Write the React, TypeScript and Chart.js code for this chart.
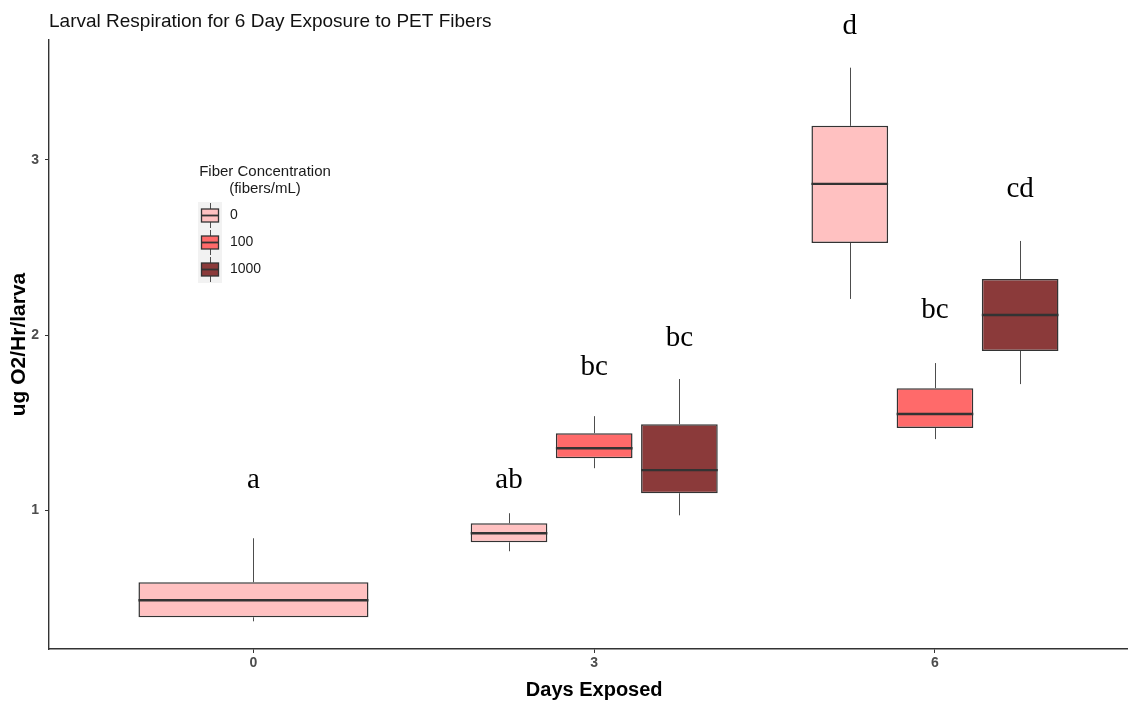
import { useEffect, useRef } from 'react';
import { Chart, registerables } from 'chart.js';

Chart.register(...registerables);

// Days on the x axis (placed at positions 1, 2, 3 of a linear axis)
const DAYS = ['0', '3', '6'];
const DAY_POS = [1, 2, 3];
const Y_TICKS = [1, 2, 3];

// Fiber concentrations (fibers/mL) and their fills
const CONCENTRATIONS = ['0', '100', '1000'];
const COLORS = ['#FFC1C1', '#FF6A6A', '#8B3A3A'];

// Five-number summaries per day: [lower whisker, Q1, median, Q3, upper whisker]
const BOX_0: (number[] | null)[] = [
  [0.366, 0.389, 0.486, 0.589, 0.84],
  [0.766, 0.817, 0.869, 0.926, 0.983],
  [2.206, 2.526, 2.863, 3.194, 3.526],
];
const BOX_100: (number[] | null)[] = [
  null,
  [1.24, 1.297, 1.354, 1.44, 1.537],
  [1.406, 1.469, 1.549, 1.697, 1.84],
];
const BOX_1000: (number[] | null)[] = [
  null,
  [0.971, 1.097, 1.229, 1.491, 1.749],
  [1.72, 1.909, 2.114, 2.32, 2.537],
];

// Significance letters and the height (baseline) at which they sit
const LETTERS_0 = ['a', 'ab', 'd'];
const LETTERS_100 = [null, 'bc', 'bc'];
const LETTERS_1000 = [null, 'bc', 'cd'];
const LETTER_Y_0 = [1.126, 1.126, 3.72];
const LETTER_Y_100 = [null, 1.771, 2.097];
const LETTER_Y_1000 = [null, 1.937, 2.789];

const SERIES = [BOX_0, BOX_100, BOX_1000];
const LETTERS = [LETTERS_0, LETTERS_100, LETTERS_1000];
const LETTER_Y = [LETTER_Y_0, LETTER_Y_100, LETTER_Y_1000];

const TITLE = 'Larval Respiration for 6 Day Exposure to PET Fibers';
const X_TITLE = 'Days Exposed';
const Y_TITLE = 'ug O2/Hr/larva';
const LEGEND_TITLE = ['Fiber Concentration', '(fibers/mL)'];

const SANS = '"Liberation Sans", Arial, sans-serif';
const SERIF = '"Liberation Serif", "Times New Roman", serif';

const boxPlugin = {
  id: 'boxWhiskers',
  beforeDatasetsDraw(chart: any) {
    const { ctx, scales } = chart;
    const y = scales.y;
    ctx.save();
    ctx.strokeStyle = '#4D4D4D';
    ctx.lineWidth = 1;
    SERIES.forEach((boxes, si) => {
      const meta = chart.getDatasetMeta(si);
      boxes.forEach((b, i) => {
        if (!b) return;
        const x = Math.round(meta.data[i].x) + 0.5;
        ctx.beginPath();
        ctx.moveTo(x, y.getPixelForValue(b[0]));
        ctx.lineTo(x, y.getPixelForValue(b[1]));
        ctx.moveTo(x, y.getPixelForValue(b[3]));
        ctx.lineTo(x, y.getPixelForValue(b[4]));
        ctx.stroke();
      });
    });
    ctx.restore();
  },
  afterDatasetsDraw(chart: any) {
    const { ctx, scales } = chart;
    const y = scales.y;
    ctx.save();
    // medians
    ctx.strokeStyle = '#333333';
    ctx.lineWidth = 2.4;
    SERIES.forEach((boxes, si) => {
      const meta = chart.getDatasetMeta(si);
      boxes.forEach((b, i) => {
        if (!b) return;
        const bar = meta.data[i];
        const py = y.getPixelForValue(b[2]);
        ctx.beginPath();
        ctx.moveTo(bar.x - bar.width / 2, py);
        ctx.lineTo(bar.x + bar.width / 2, py);
        ctx.stroke();
      });
    });
    // significance letters
    ctx.fillStyle = '#000000';
    ctx.font = `29px ${SERIF}`;
    ctx.textAlign = 'center';
    ctx.textBaseline = 'alphabetic';
    LETTERS.forEach((letters, si) => {
      const meta = chart.getDatasetMeta(si);
      letters.forEach((t, i) => {
        const v = LETTER_Y[si][i];
        if (!t || v == null) return;
        ctx.fillText(t, meta.data[i].x, y.getPixelForValue(v));
      });
    });
    ctx.restore();
  },
  afterDraw(chart: any) {
    const { ctx, chartArea, scales } = chart;
    ctx.save();
    // plot title
    ctx.fillStyle = '#111111';
    ctx.font = `19px ${SANS}`;
    ctx.textAlign = 'left';
    ctx.textBaseline = 'alphabetic';
    ctx.fillText(TITLE, chartArea.left, 27);

    // axis titles
    ctx.fillStyle = '#000000';
    ctx.font = `bold 20px ${SANS}`;
    ctx.textAlign = 'center';
    ctx.textBaseline = 'middle';
    ctx.fillText(X_TITLE, scales.x.getPixelForValue(2), 690);
    ctx.font = `bold 21px ${SANS}`;
    ctx.save();
    ctx.translate(19, (chartArea.top + chartArea.bottom) / 2);
    ctx.rotate(-Math.PI / 2);
    ctx.fillText(Y_TITLE, 0, 0);
    ctx.restore();

    // legend
    const cx = 265;
    ctx.fillStyle = '#1A1A1A';
    ctx.font = `15px ${SANS}`;
    ctx.fillText(LEGEND_TITLE[0], cx, 172);
    ctx.fillText(LEGEND_TITLE[1], cx, 189);
    const keyX = 198;
    const keyW = 24;
    const keyTop = 202;
    const keyH = 27;
    ctx.fillStyle = '#F2F2F2';
    ctx.fillRect(keyX, keyTop, keyW, keyH * CONCENTRATIONS.length);
    CONCENTRATIONS.forEach((label, i) => {
      const top = keyTop + i * keyH;
      const mid = top + keyH / 2;
      const lx = keyX + keyW / 2 + 0.5;
      ctx.strokeStyle = '#4D4D4D';
      ctx.lineWidth = 1;
      ctx.beginPath();
      ctx.moveTo(lx, top + 1);
      ctx.lineTo(lx, top + keyH - 1);
      ctx.stroke();
      ctx.fillStyle = COLORS[i];
      ctx.fillRect(keyX + 3.5, mid - 6.5, keyW - 7, 13);
      ctx.strokeStyle = '#333333';
      ctx.lineWidth = 1.3;
      ctx.strokeRect(keyX + 3.5, mid - 6.5, keyW - 7, 13);
      ctx.lineWidth = 1.8;
      ctx.beginPath();
      ctx.moveTo(keyX + 3.5, mid);
      ctx.lineTo(keyX + keyW - 3.5, mid);
      ctx.stroke();
      ctx.fillStyle = '#1A1A1A';
      ctx.font = `14px ${SANS}`;
      ctx.textAlign = 'left';
      ctx.fillText(label, 230, mid);
      ctx.textAlign = 'center';
    });
    ctx.restore();
  },
};

export default function App() {
  const ref = useRef<HTMLCanvasElement>(null);

  useEffect(() => {
    const canvas = ref.current;
    if (!canvas) return;
    const datasets = SERIES.map((boxes, si) => ({
      label: CONCENTRATIONS[si],
      stack: 's' + si,
      data: boxes.map((b, i) => ({ x: DAY_POS[i], y: b ? [b[1], b[3]] : null })),
      backgroundColor: COLORS[si],
      borderColor: '#333333',
      borderWidth: 1.5,
      borderSkipped: false as const,
      categoryPercentage: 0.75,
      barPercentage: 0.9,
      skipNull: true,
    }));

    const tickFont = { family: SANS, size: 14, weight: 'bold' as const };

    const chart = new Chart(canvas, {
      type: 'bar',
      data: { datasets } as any,
      options: {
        animation: false,
        responsive: false,
        devicePixelRatio: 1,
        layout: { padding: { top: 40, right: 0, bottom: 0, left: 0 } },
        plugins: {
          legend: { display: false },
          tooltip: { enabled: false },
          title: { display: false },
        },
        scales: {
          x: {
            type: 'linear',
            min: 0.4,
            max: 3.5665,
            offset: false,
            afterBuildTicks: (s: any) => {
              s.ticks = DAY_POS.map((v) => ({ value: v }));
            },
            afterFit: (s: any) => {
              s.height = 55;
            },
            grid: {
              offset: false,
              drawOnChartArea: false,
              drawTicks: true,
              tickLength: 4,
              color: '#333333',
            },
            border: { color: '#333333', width: 1.4 },
            ticks: {
              autoSkip: false,
              maxRotation: 0,
              padding: 2,
              color: '#4D4D4D',
              font: tickFont,
              callback: (v: any) => {
                const k = DAY_POS.indexOf(Number(v));
                return k >= 0 ? DAYS[k] : '';
              },
            },
          },
          y: {
            type: 'linear',
            min: 0.208,
            max: 3.684,
            afterBuildTicks: (s: any) => {
              s.ticks = Y_TICKS.map((v) => ({ value: v }));
            },
            afterFit: (s: any) => {
              s.width = 49;
            },
            grid: {
              drawOnChartArea: false,
              drawTicks: true,
              tickLength: 4,
              color: '#333333',
            },
            border: { color: '#333333', width: 1.4 },
            ticks: {
              padding: 6,
              color: '#4D4D4D',
              font: tickFont,
              callback: (v: any) => String(v),
            },
          },
        },
      } as any,
      plugins: [boxPlugin],
    });
    return () => chart.destroy();
  }, []);

  return (
    <div style={{ position: 'fixed', left: 0, top: 0, width: 1128, height: 704, background: '#FFFFFF' }}>
      <canvas ref={ref} width={1128} height={704} style={{ display: 'block' }} />
    </div>
  );
}
